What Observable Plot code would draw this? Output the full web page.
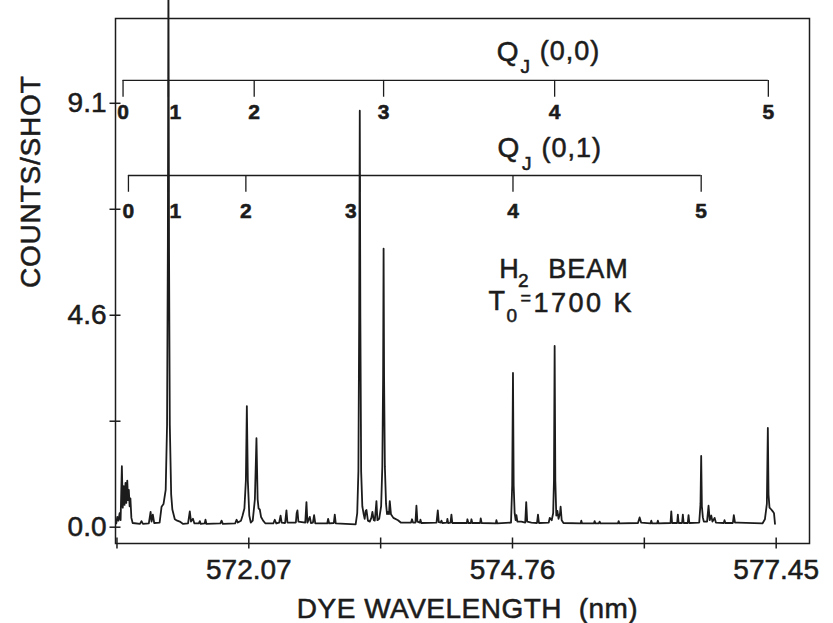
<!DOCTYPE html>
<html><head><meta charset="utf-8">
<script src="https://cdn.jsdelivr.net/npm/d3@7"></script>
<script src="https://cdn.jsdelivr.net/npm/@observablehq/plot@0.6"></script>
<style>
html,body{margin:0;padding:0;background:#fff;}
svg text{white-space:pre;stroke:#1c1c1c;stroke-width:0.55px;paint-order:stroke;}
</style></head><body><div id="chart"></div>
<script>
// ---- data ----
const yTicks = [0, 2.275, 4.55, 6.825, 9.1];
const yTickLabels = ["0.0", "", "4.6", "", "9.1"];
const xTicks = [570.725, 572.07, 573.415, 574.76, 576.105, 577.45];
const xTickLabels = ["", "572.07", "", "574.76", "", "577.45"];
const xTitle = "DYE WAVELENGTH  (nm)";
const yTitle = "COUNTS/SHOT";

const branchJ = [0, 1, 2, 3, 4, 5];
const q00Wavelength = [570.787, 571.25, 572.125, 573.445, 575.19, 577.37];
const q01Wavelength = [570.842, 571.25, 572.04, 573.202, 574.765, 576.685];
const branchNames = ["(0,0)", "(0,1)"];
const beamText = ["H", "2", "BEAM"];
const tempText = ["T", "0", "=", "1700 K"];

// [wavelength (nm), counts/shot]
const spectrum = [
[570.718,0.08],[570.728,0.22],[570.740,0.14],[570.752,0.30],[570.762,0.15],[570.775,1.31],
[570.784,0.42],[570.794,0.88],[570.802,0.48],[570.812,0.95],[570.820,0.52],[570.830,1.00],
[570.838,0.58],[570.846,0.80],[570.854,0.45],[570.862,0.62],[570.872,0.20],[570.885,0.09],
[570.960,0.07],[570.975,0.13],[570.990,0.07],[571.050,0.08],[571.068,0.33],[571.078,0.12],
[571.091,0.27],[571.105,0.09],[571.160,0.10],[571.180,0.44],[571.200,0.50],[571.222,0.80],
[571.236,2.2],[571.244,6.0],[571.250,11.9],[571.256,6.0],[571.264,2.2],[571.278,0.70],
[571.290,0.38],[571.315,0.17],[571.340,0.14],[571.366,0.12],[571.400,0.07],[571.450,0.08],
[571.468,0.34],[571.480,0.12],[571.500,0.18],[571.515,0.08],[571.560,0.08],[571.570,0.13],
[571.580,0.07],[571.620,0.08],[571.628,0.16],[571.638,0.07],[571.780,0.08],[571.792,0.14],
[571.805,0.07],[571.930,0.08],[571.945,0.16],[571.958,0.10],[571.990,0.14],[572.005,0.24],
[572.025,0.40],[572.040,1.0],[572.050,2.60],[572.060,1.0],[572.075,0.25],[572.090,0.10],
[572.110,0.14],[572.132,0.60],[572.148,1.91],[572.160,0.60],[572.170,0.40],[572.182,0.38],
[572.195,0.22],[572.216,0.14],[572.240,0.08],[572.320,0.08],[572.335,0.16],[572.350,0.08],
[572.380,0.10],[572.394,0.25],[572.405,0.10],[572.440,0.09],[572.454,0.36],[572.464,0.10],
[572.550,0.10],[572.558,0.30],[572.566,0.36],[572.576,0.12],[572.646,0.10],[572.658,0.54],
[572.668,0.10],[572.692,0.22],[572.704,0.09],[572.724,0.10],[572.736,0.26],[572.748,0.08],
[572.870,0.08],[572.879,0.18],[572.890,0.08],[572.937,0.09],[572.947,0.27],[572.957,0.08],
[573.160,0.06],[573.176,0.30],[573.188,1.2],[573.196,4.5],[573.202,8.94],[573.208,4.5],
[573.216,1.2],[573.228,0.45],[573.240,0.30],[573.252,0.18],[573.262,0.35],[573.270,0.37],
[573.285,0.14],[573.304,0.12],[573.320,0.20],[573.331,0.33],[573.345,0.15],[573.355,0.14],
[573.366,0.40],[573.372,0.56],[573.382,0.15],[573.400,0.18],[573.420,0.45],[573.432,1.3],
[573.440,3.2],[573.445,5.98],[573.450,3.2],[573.458,1.3],[573.470,0.50],[573.480,0.28],
[573.490,0.33],[573.500,0.28],[573.508,0.56],[573.520,0.28],[573.545,0.20],[573.592,0.15],
[573.620,0.10],[573.725,0.10],[573.735,0.17],[573.745,0.10],[573.770,0.10],[573.780,0.46],
[573.790,0.12],[573.815,0.10],[573.821,0.16],[573.830,0.09],[573.985,0.10],[573.998,0.36],
[574.008,0.11],[574.030,0.10],[574.035,0.14],[574.045,0.09],[574.090,0.10],[574.096,0.18],
[574.104,0.09],[574.128,0.10],[574.137,0.27],[574.146,0.09],[574.294,0.09],[574.300,0.17],
[574.310,0.09],[574.335,0.09],[574.341,0.17],[574.350,0.09],[574.430,0.09],[574.436,0.19],
[574.445,0.09],[574.590,0.08],[574.596,0.15],[574.605,0.08],[574.745,0.10],[574.757,0.9],
[574.765,3.31],[574.772,0.9],[574.782,0.30],[574.792,0.15],[574.800,0.26],[574.810,0.12],
[574.850,0.12],[574.890,0.10],[574.900,0.54],[574.910,0.12],[574.953,0.10],[575.010,0.09],
[575.020,0.27],[575.030,0.09],[575.130,0.10],[575.140,0.20],[575.160,0.15],[575.175,0.30],
[575.183,1.0],[575.190,3.89],[575.197,1.0],[575.207,0.25],[575.218,0.35],[575.230,0.18],
[575.245,0.30],[575.251,0.44],[575.262,0.15],[575.280,0.09],[575.455,0.08],[575.462,0.14],
[575.470,0.08],[575.590,0.08],[575.598,0.13],[575.606,0.08],[575.640,0.08],[575.649,0.12],
[575.658,0.08],[575.835,0.08],[575.843,0.13],[575.852,0.08],[576.040,0.09],[576.057,0.21],
[576.072,0.10],[576.168,0.08],[576.176,0.14],[576.185,0.08],[576.235,0.08],[576.243,0.14],
[576.252,0.08],[576.372,0.09],[576.380,0.34],[576.388,0.09],[576.440,0.09],[576.447,0.27],
[576.455,0.09],[576.490,0.09],[576.498,0.27],[576.506,0.09],[576.548,0.09],[576.556,0.26],
[576.564,0.09],[576.665,0.10],[576.678,0.50],[576.685,1.53],[576.692,0.45],[576.702,0.21],
[576.712,0.12],[576.745,0.12],[576.760,0.46],[576.772,0.15],[576.788,0.25],[576.800,0.12],
[576.822,0.20],[576.835,0.10],[576.915,0.09],[576.923,0.15],[576.932,0.09],[577.008,0.09],
[577.018,0.26],[577.030,0.10],[577.059,0.10],[577.310,0.08],[577.335,0.17],[577.355,0.50],
[577.365,2.13],[577.372,0.70],[577.382,0.42],[577.400,0.38],[577.415,0.34],[577.428,0.30],
[577.438,0.07]
];

// ---- drawing ----
const ink = "#1c1c1c";
const font = "'Liberation Sans', Arial, Helvetica, sans-serif";

const branches = [
  {name: branchNames[0], wl: q00Wavelength, lineY: 9.59, tickY: 9.23, labelY: 8.90, tx: 574.600, ty: 10.21, jdx: 23.7, jdy: 15.8, pdx: 43},
  {name: branchNames[1], wl: q01Wavelength, lineY: 7.55, tickY: 7.19, labelY: 6.78, tx: 574.606, ty: 8.13, jdx: 24.6, jdy: 15.3, pdx: 44}
];

const marks = [
  Plot.frame({stroke: ink, strokeWidth: 1.5}),
  Plot.axisY({ticks: yTicks, tickSize: 11, dx: 5.5, tickFormat: () => "", stroke: ink, strokeWidth: 1.5, label: null}),
  Plot.axisY({ticks: yTicks, tickSize: 0, tickPadding: 9, tickFormat: d => yTickLabels[yTicks.indexOf(d)], fontSize: 28, fill: ink, label: null}),
  Plot.axisX({ticks: xTicks, tickSize: 11, dy: -5.5, tickFormat: () => "", stroke: ink, strokeWidth: 1.5, label: null}),
  Plot.axisX({ticks: xTicks, tickSize: 0, tickPadding: 16, tickFormat: d => xTickLabels[xTicks.indexOf(d)], fontSize: 28, fill: ink, label: null}),
  Plot.text([yTitle], {frameAnchor: "left", text: d => d, rotate: -90, dx: -84, dy: 7, fontSize: 28, fill: ink}),
  Plot.text([xTitle], {frameAnchor: "bottom", text: d => d, dx: 5, dy: 66, lineAnchor: "middle", fontSize: 28, fill: ink}),
  Plot.line(spectrum, {x: d => d[0], y: d => d[1], stroke: ink, strokeWidth: 1.8, strokeLinejoin: "round"})
];

for (const b of branches) {
  const ticks = branchJ.map((J, i) => ({J, wl: b.wl[i]}));
  marks.push(
    Plot.ruleY([b.lineY], {x1: b.wl[0], x2: b.wl[b.wl.length - 1], stroke: ink, strokeWidth: 1.3}),
    Plot.ruleX(ticks, {x: "wl", y1: b.lineY, y2: b.tickY, stroke: ink, strokeWidth: 1.3}),
    Plot.text(ticks, {filter: d => d.J !== 1 && !(b === branches[1] && d.J === 3), x: "wl", y: b.labelY, text: d => String(d.J), fontSize: 21, fontWeight: "bold", fill: ink}),
    Plot.text(ticks, {filter: d => d.J === 1, x: "wl", y: b.labelY, dx: 7, text: d => String(d.J), fontSize: 21, fontWeight: "bold", fill: ink}),
    Plot.text(ticks, {filter: d => b === branches[1] && d.J === 3, x: "wl", y: b.labelY, dx: -9, text: d => String(d.J), fontSize: 21, fontWeight: "bold", fill: ink}),
    Plot.text(["Q"], {x: b.tx, y: b.ty, text: d => d, textAnchor: "start", fontSize: 28, fill: ink}),
    Plot.text(["J"], {x: b.tx, y: b.ty, dx: b.jdx, dy: b.jdy, text: d => d, textAnchor: "start", fontSize: 19, fill: ink}),
    Plot.text([b.name], {x: b.tx, y: b.ty, dx: b.pdx, text: d => d, textAnchor: "start", fontSize: 27, fill: ink})
  );
}

// H2 BEAM and T0 = 1700 K annotations
marks.push(
  Plot.text([beamText[0]], {x: 574.624, y: 5.53, text: d => d, textAnchor: "start", fontSize: 27, fill: ink}),
  Plot.text([beamText[1]], {x: 574.624, y: 5.53, dx: 18.8, dy: 11, text: d => d, textAnchor: "start", fontSize: 19, fill: ink}),
  Plot.text([beamText[2]], {x: 574.624, y: 5.53, dx: 49, text: d => d, textAnchor: "start", fontSize: 27, fill: ink}),
  Plot.text([tempText[0]], {x: 574.514, y: 4.84, text: d => d, textAnchor: "start", fontSize: 27, fill: ink}),
  Plot.text([tempText[1]], {x: 574.514, y: 4.84, dx: 18, dy: 14, text: d => d, textAnchor: "start", fontSize: 19, fill: ink}),
  Plot.text([tempText[2]], {x: 574.514, y: 4.84, dx: 32, dy: -3, text: d => d, textAnchor: "start", fontSize: 18, fill: ink}),
  Plot.text([tempText[3]], {x: 574.514, y: 4.84, dx: 45, dy: 2, text: d => d, textAnchor: "start", fontSize: 27, fill: ink})
);

const chart = Plot.plot({
  width: 833, height: 623,
  marginLeft: 115, marginRight: 24, marginTop: 18, marginBottom: 80,
  x: {domain: [570.71, 577.79]},
  y: {domain: [-0.35, 10.92]},
  style: {fontFamily: font, background: "#fff", color: ink, overflow: "visible"},
  marks
});

// letter spacing to match the lettering of the original
const spacing = new Map([[xTitle, "0.5px"], [yTitle, "0.8px"], ["BEAM", "1px"], ["1700 K", "2.5px"], ["(0,0)", "1px"], ["(0,1)", "1px"]]);
d3.select(chart).selectAll("text").each(function() {
  const s = spacing.get(this.textContent);
  if (s) this.setAttribute("letter-spacing", s);
});
document.getElementById("chart").appendChild(chart);
</script></body></html>
